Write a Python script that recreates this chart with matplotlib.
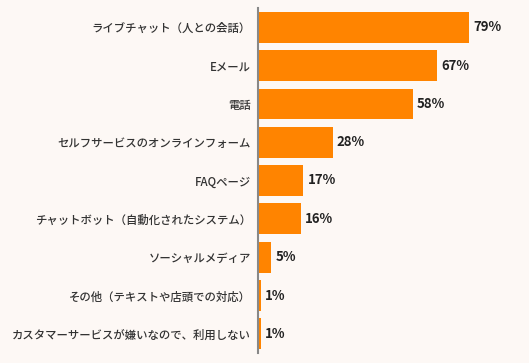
import matplotlib
matplotlib.use("Agg")
import matplotlib.pyplot as plt

plt.rcParams['font.family'] = ['Noto Sans CJK JP', 'DejaVu Sans']

labels = ["ライブチャット（人との会話）", "Eメール", "電話",
          "セルフサービスのオンラインフォーム", "FAQページ",
          "チャットボット（自動化されたシステム）", "ソーシャルメディア",
          "その他（テキストや店頭での対応）",
          "カスタマーサービスが嫌いなので、利用しない"]
values = [79, 67, 58, 28, 17, 16, 5, 1, 1]

bg = "#fdf8f5"
fig = plt.figure(figsize=(5.29, 3.63), dpi=100, facecolor=bg)
ax = fig.add_axes([258/529, 10/363, 267/529, 345/363])
ax.set_facecolor(bg)

y = list(range(len(values)))
ax.barh(y, values, height=0.8, color="#ff8400")
ax.set_ylim(len(values) - 0.5, -0.5)
ax.set_xlim(0, 100)

for yi, v in zip(y, values):
    ax.text(v + 1.5, yi, f"{v}%", va="center", ha="left",
            fontsize=9.5, fontweight="bold", color="#222222")

ax.set_yticks(y)
ax.set_yticklabels(labels, fontsize=8.2, color="#333333", fontweight="medium")
ax.tick_params(axis="y", length=0, pad=5)
ax.set_xticks([])
for s in ["top", "right", "bottom"]:
    ax.spines[s].set_visible(False)
ax.spines["left"].set_color("#888888")
ax.spines["left"].set_linewidth(1.5)

fig.savefig("out.png", dpi=100, facecolor=bg)
